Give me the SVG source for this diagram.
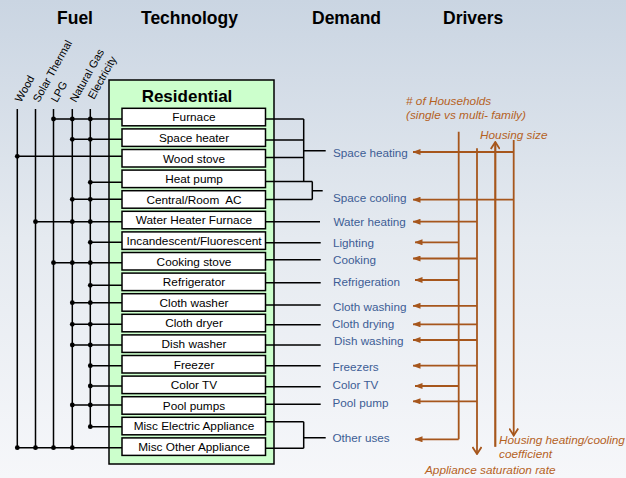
<svg xmlns="http://www.w3.org/2000/svg" width="626" height="478" viewBox="0 0 626 478">
  <defs>
    <linearGradient id="bg" x1="0" y1="0" x2="0" y2="1">
      <stop offset="0" stop-color="#cad5e2"/>
      <stop offset="0.5" stop-color="#e5eaf0"/>
      <stop offset="1" stop-color="#f6f7fa"/>
    </linearGradient>
    <!-- small filled arrowhead for driver links -->
    <marker id="tri" viewBox="0 0 8 6" refX="7.5" refY="3" markerWidth="8" markerHeight="6" markerUnits="userSpaceOnUse" orient="auto">
      <path d="M0,0 L8,3 L0,6 Z" fill="#a6561c"/>
    </marker>
    <!-- open chevron head for the vertical driver lines -->
    <marker id="chev" viewBox="0 0 10 10" refX="9" refY="5" markerWidth="10" markerHeight="10" markerUnits="userSpaceOnUse" orient="auto">
      <path d="M2,0.5 L9,5 L2,9.5" fill="none" stroke="#a6561c" stroke-width="1.8"/>
    </marker>
  </defs>
  <style>
    .hdr { font-family: "Liberation Sans", Arial, sans-serif; font-size: 17.5px; font-weight: bold; fill: #000; }
    .fuel { font-family: "Liberation Sans", Arial, sans-serif; font-size: 11px; fill: #000; }
    .tech rect { fill: #fff; stroke: #000; stroke-width: 1.5; }
    .tech text { font-family: "Liberation Sans", Arial, sans-serif; font-size: 11.8px; fill: #000; text-anchor: middle; }
    .dem { font-family: "Liberation Sans", Arial, sans-serif; font-size: 11.7px; fill: #3d5d95; }
    .drv { font-family: "Liberation Sans", Arial, sans-serif; font-size: 11.8px; font-style: italic; fill: #b5621f; }
    .wire { stroke: #000; stroke-width: 1.5; fill: none; }
    .dot { fill: #000; }
    .brown { stroke: #a6561c; stroke-width: 1.8; fill: none; }
  </style>

  <!-- background -->
  <rect x="0" y="0" width="626" height="478" fill="url(#bg)"/>

  <!-- column headings -->
  <g id="headings">
    <text class="hdr" x="57" y="24">Fuel</text>
    <text class="hdr" x="141" y="24">Technology</text>
    <text class="hdr" x="312" y="24">Demand</text>
    <text class="hdr" x="443" y="24">Drivers</text>
  </g>

  <!-- fuel labels (slanted) -->
  <g id="fuels">
    <text class="fuel" transform="translate(21,103) rotate(-61)">Wood</text>
    <text class="fuel" transform="translate(39,103) rotate(-61)">Solar Thermal</text>
    <text class="fuel" transform="translate(57,103) rotate(-61)">LPG</text>
    <text class="fuel" transform="translate(76,103) rotate(-61)">Natural Gas</text>
    <text class="fuel" transform="translate(94,100) rotate(-61)">Electricity</text>
  </g>

  <!-- residential sector box -->
  <g id="residential">
    <rect x="109" y="80" width="165" height="384" fill="#ccffcc" stroke="#000" stroke-width="1.5"/>
    <text x="187" y="102" font-family="'Liberation Sans', Arial, sans-serif" font-size="17px" font-weight="bold" text-anchor="middle">Residential</text>
  </g>

  <!-- connectors -->
  <g id="connectors">
    <!-- fuel buses -->
    <path class="wire" d="M17.3,109 V447.7 M35.5,109 V447.7 M53.5,109 V447.7 M72.3,109 V447.7 M90.3,109 V426.7"/>
    <!-- fuel to technology -->
    <path class="wire" d="M53.5,119 H122 M72.3,139.3 H122 M17.3,156.3 H122 M90.3,182.3 H122 M72.3,199.3 H122 M35.5,221.7 H122 M90.3,242.3 H122 M53.5,262.7 H122 M90.3,285.3 H122 M72.3,302.7 H122 M72.3,324.3 H122 M72.3,345 H122 M90.3,365.7 H122 M90.3,386 H122 M72.3,405 H122 M90.3,426.7 H122 M17.3,447.7 H122"/>
    <g class="dot">
      <circle cx="53.5" cy="119" r="2.4"/><circle cx="72.3" cy="119" r="2.4"/><circle cx="90.3" cy="119" r="2.4"/>
      <circle cx="72.3" cy="139.3" r="2.4"/><circle cx="90.3" cy="139.3" r="2.4"/>
      <circle cx="17.3" cy="156.3" r="2.4"/>
      <circle cx="90.3" cy="182.3" r="2.4"/>
      <circle cx="72.3" cy="199.3" r="2.4"/><circle cx="90.3" cy="199.3" r="2.4"/>
      <circle cx="35.5" cy="221.7" r="2.4"/><circle cx="72.3" cy="221.7" r="2.4"/><circle cx="90.3" cy="221.7" r="2.4"/>
      <circle cx="90.3" cy="242.3" r="2.4"/>
      <circle cx="53.5" cy="262.7" r="2.4"/><circle cx="72.3" cy="262.7" r="2.4"/><circle cx="90.3" cy="262.7" r="2.4"/>
      <circle cx="90.3" cy="285.3" r="2.4"/>
      <circle cx="72.3" cy="302.7" r="2.4"/><circle cx="90.3" cy="302.7" r="2.4"/>
      <circle cx="72.3" cy="324.3" r="2.4"/><circle cx="90.3" cy="324.3" r="2.4"/>
      <circle cx="72.3" cy="345" r="2.4"/><circle cx="90.3" cy="345" r="2.4"/>
      <circle cx="90.3" cy="365.7" r="2.4"/>
      <circle cx="90.3" cy="386" r="2.4"/>
      <circle cx="72.3" cy="405" r="2.4"/><circle cx="90.3" cy="405" r="2.4"/>
      <circle cx="90.3" cy="426.7" r="2.4"/>
      <circle cx="17.3" cy="447.7" r="2.4"/><circle cx="35.5" cy="447.7" r="2.4"/><circle cx="53.5" cy="447.7" r="2.4"/><circle cx="72.3" cy="447.7" r="2.4"/>
    </g>

    <!-- technology to demand -->
    <path class="wire" d="M265.5,119 H303.7 M265.5,140 H303.7 M265.5,157.5 H303.7 M265.5,181.5 H312.3 M303.7,119 V181.5 M303.7,150.7 H325.7"/>
    <path class="wire" d="M265.5,199.5 H312.3 M312.3,181.5 V199.5 M312.3,190.7 H322.7"/>
    <path class="wire" d="M265.5,221.7 H320 M265.5,242.7 H320.7 M265.5,259.7 H320.7 M265.5,282.7 H320.7 M265.5,305 H320.7 M265.5,324.7 H320.7 M265.5,345 H320.7 M265.5,365.7 H320.7 M265.5,386.7 H320.7 M265.5,404.3 H320.7"/>
    <path class="wire" d="M265.5,421.7 H303.7 M265.5,448.3 H303.7 M303.7,421.7 V448.3 M303.7,437.7 H325.7"/>

    <!-- drivers: vertical lines -->
    <path class="brown" d="M458.7,131.7 V439.3"/>
    <path class="brown" d="M477,148.3 V454" marker-end="url(#chev)"/>
    <path class="brown" stroke-width="3" d="M495.3,446.7 V143"/>
    <path stroke="#ecdccc" stroke-width="1" fill="none" d="M495.3,446.7 V144"/>
    <path class="brown" d="M495.3,446.7 V142" stroke="none" marker-end="url(#chev)"/>
    <path class="brown" d="M513.7,140 V435.5" marker-end="url(#chev)"/>

    <!-- drivers: links to demands -->
    <path class="brown" marker-end="url(#tri)" d="M513.7,152 H413"/>
    <path class="brown" marker-end="url(#tri)" d="M513.7,199.7 H413"/>
    <path class="brown" marker-end="url(#tri)" d="M477,221.7 H413"/>
    <path class="brown" marker-end="url(#tri)" d="M458.7,242.3 H415"/>
    <path class="brown" marker-end="url(#tri)" d="M477,258.5 H413"/>
    <path class="brown" marker-end="url(#tri)" d="M458.7,280 H415"/>
    <path class="brown" marker-end="url(#tri)" d="M477,305.8 H413"/>
    <path class="brown" marker-end="url(#tri)" d="M477,324.3 H413"/>
    <path class="brown" marker-end="url(#tri)" d="M477,340 H413"/>
    <path class="brown" marker-end="url(#tri)" d="M477,365.7 H413"/>
    <path class="brown" marker-end="url(#tri)" d="M458.7,386 H415"/>
    <path class="brown" marker-end="url(#tri)" d="M477,401.3 H413"/>
    <path class="brown" marker-end="url(#tri)" d="M458.7,439.3 H415"/>
  </g>

  <!-- technologies -->
  <g id="tech-furnace" class="tech"><rect x="122" y="108.3" width="143.5" height="17.5"/><text x="194" y="121.3">Furnace</text></g>
  <g id="tech-space-heater" class="tech"><rect x="122" y="128.9" width="143.5" height="17.5"/><text x="194" y="141.9">Space heater</text></g>
  <g id="tech-wood-stove" class="tech"><rect x="122" y="149.5" width="143.5" height="17.5"/><text x="194" y="162.5">Wood stove</text></g>
  <g id="tech-heat-pump" class="tech"><rect x="122" y="170.1" width="143.5" height="17.5"/><text x="194" y="183.1">Heat pump</text></g>
  <g id="tech-central-ac" class="tech"><rect x="122" y="190.7" width="143.5" height="17.5"/><text x="194" y="203.7" xml:space="preserve">Central/Room  AC</text></g>
  <g id="tech-water-heater" class="tech"><rect x="122" y="211.3" width="143.5" height="17.5"/><text x="194" y="224.3">Water Heater Furnace</text></g>
  <g id="tech-lighting" class="tech"><rect x="122" y="231.9" width="143.5" height="17.5"/><text x="194" y="244.9">Incandescent/Fluorescent</text></g>
  <g id="tech-cooking-stove" class="tech"><rect x="122" y="252.5" width="143.5" height="17.5"/><text x="194" y="265.5">Cooking stove</text></g>
  <g id="tech-refrigerator" class="tech"><rect x="122" y="273.1" width="143.5" height="17.5"/><text x="194" y="286.1">Refrigerator</text></g>
  <g id="tech-cloth-washer" class="tech"><rect x="122" y="293.7" width="143.5" height="17.5"/><text x="194" y="306.7">Cloth washer</text></g>
  <g id="tech-cloth-dryer" class="tech"><rect x="122" y="314.3" width="143.5" height="17.5"/><text x="194" y="327.3">Cloth dryer</text></g>
  <g id="tech-dish-washer" class="tech"><rect x="122" y="334.9" width="143.5" height="17.5"/><text x="194" y="347.9">Dish washer</text></g>
  <g id="tech-freezer" class="tech"><rect x="122" y="355.5" width="143.5" height="17.5"/><text x="194" y="368.5">Freezer</text></g>
  <g id="tech-color-tv" class="tech"><rect x="122" y="376.1" width="143.5" height="17.5"/><text x="194" y="389.1">Color TV</text></g>
  <g id="tech-pool-pumps" class="tech"><rect x="122" y="396.7" width="143.5" height="17.5"/><text x="194" y="409.7">Pool pumps</text></g>
  <g id="tech-misc-electric" class="tech"><rect x="122" y="417.3" width="143.5" height="17.5"/><text x="194" y="430.3">Misc Electric Appliance</text></g>
  <g id="tech-misc-other" class="tech"><rect x="122" y="437.9" width="143.5" height="17.5"/><text x="194" y="450.9">Misc Other Appliance</text></g>

  <!-- demands -->
  <g id="demands">
    <text class="dem" x="333" y="156.5">Space heating</text>
    <text class="dem" x="333" y="201.5">Space cooling</text>
    <text class="dem" x="333.5" y="225.5">Water heating</text>
    <text class="dem" x="333" y="247">Lighting</text>
    <text class="dem" x="333" y="264">Cooking</text>
    <text class="dem" x="333" y="285.5">Refrigeration</text>
    <text class="dem" x="333" y="311">Cloth washing</text>
    <text class="dem" x="332" y="328">Cloth drying</text>
    <text class="dem" x="334" y="345">Dish washing</text>
    <text class="dem" x="332.5" y="371">Freezers</text>
    <text class="dem" x="332.5" y="389">Color TV</text>
    <text class="dem" x="332.5" y="406.5">Pool pump</text>
    <text class="dem" x="332.5" y="441.5">Other uses</text>
  </g>

  <!-- driver labels -->
  <g id="drivers">
    <text class="drv" x="406" y="104.5"># of Households</text>
    <text class="drv" x="406" y="119">(single vs multi- family)</text>
    <text class="drv" x="480" y="139">Housing size</text>
    <text class="drv" x="499" y="444">Housing heating/cooling</text>
    <text class="drv" x="499" y="458">coefficient</text>
    <text class="drv" x="425" y="474">Appliance saturation rate</text>
  </g>
</svg>
